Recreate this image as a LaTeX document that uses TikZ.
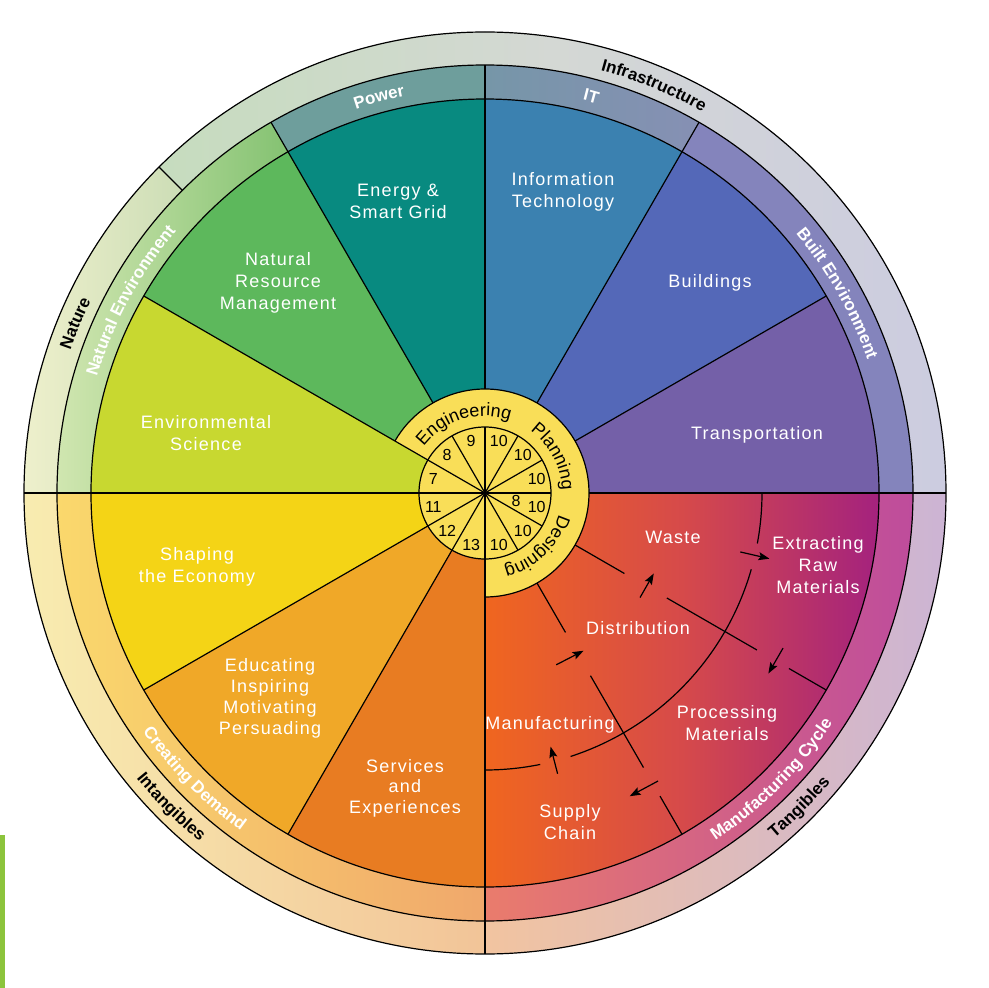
\documentclass[tikz,border=0pt]{standalone}
\usepackage{fontspec}
\setmainfont{Liberation Sans}
\newfontfamily\labfont{Liberation Sans}[LetterSpace=7]
\newfontfamily\bandfont{Liberation Sans}
\newfontfamily\ringfont{Liberation Sans}
\newfontfamily\numfont{Liberation Sans}
\usetikzlibrary{decorations.text,arrows.meta}

\definecolor{cEnv}{HTML}{C8D830}
\definecolor{cNRM}{HTML}{5DB85C}
\definecolor{cEnergy}{HTML}{088A80}
\definecolor{cIT}{HTML}{3B81B0}
\definecolor{cBuild}{HTML}{5468B8}
\definecolor{cTrans}{HTML}{7460A8}
\definecolor{cShape}{HTML}{F4D416}
\definecolor{cEdu}{HTML}{F0A828}
\definecolor{cServ}{HTML}{E87C22}
\definecolor{cManL}{HTML}{F0661F}
\definecolor{cManM}{HTML}{D64A4A}
\definecolor{cManR}{HTML}{A4227E}
\definecolor{cYel}{HTML}{F9DE58}
\definecolor{bNatL}{HTML}{D0E6B0}
\definecolor{bNatR}{HTML}{84C272}
\definecolor{bPow}{HTML}{6E9E9C}
\definecolor{bITL}{HTML}{7696A8}
\definecolor{bITR}{HTML}{8690B4}
\definecolor{bBuilt}{HTML}{8484BC}
\definecolor{bMfgL}{HTML}{EA7C6C}
\definecolor{bMfgR}{HTML}{BE4C9C}
\definecolor{bDemL}{HTML}{FAD86C}
\definecolor{bDemR}{HTML}{F0A86C}
\definecolor{oNatL}{HTML}{EEF0CC}
\definecolor{oNatR}{HTML}{CCDDB6}
\definecolor{oInfL}{HTML}{C6DCBE}
\definecolor{oInfM}{HTML}{D4D8D4}
\definecolor{oInfR}{HTML}{CCCCE0}
\definecolor{oTanL}{HTML}{F2C4A0}
\definecolor{oTanR}{HTML}{CCB4D4}
\definecolor{oIntL}{HTML}{F8ECB0}
\definecolor{oIntR}{HTML}{F2C498}
\definecolor{artgreen}{HTML}{8CC43C}

\newcommand{\annsec}[4]{(#1:#3) arc[start angle=#1,end angle=#2,radius=#3] -- (#2:#4) arc[start angle=#2,end angle=#1,radius=#4] -- cycle}
\newcommand{\piesec}[3]{(0,0) -- (#1:#3) arc[start angle=#1,end angle=#2,radius=#3] -- cycle}
\newcommand{\bandfmt}{\bandfont\bfseries\fontsize{17}{20}\selectfont}
\newcommand{\ringfmt}{\ringfont\fontsize{18}{21}\selectfont}
% clockwise text (tops outward): centre angle, radius, half span, format, text
\newcommand{\cwtext}[5]{\path[decorate,decoration={text along path,text align=center,text={|#4|#5}}] (#1+#3:#2) arc[start angle=#1+#3,end angle=#1-#3,radius=#2];}
% counter-clockwise text (tops inward)
\newcommand{\ccwtext}[5]{\path[decorate,decoration={text along path,text align=center,text={|#4|#5}}] (#1-#3:#2) arc[start angle=#1-#3,end angle=#1+#3,radius=#2];}

\tikzset{
  border/.style={line width=1.2pt, black},
  seclabel/.style={text=white, align=center, font=\labfont\fontsize{18}{22}\selectfont, inner sep=0pt},
  numlabel/.style={font=\numfont\fontsize{16}{18}\selectfont, inner sep=0pt},
  cyc/.style={line width=1.2pt, black},
  cycarrow/.style={line width=1.2pt, black, -{Stealth[length=11pt,width=8pt,inset=2pt]}}
}

\begin{document}
\begin{tikzpicture}[x=1pt,y=1pt]
\useasboundingbox (-485,-495) rectangle (503,493);
\fill[white] (-485,-495) rectangle (503,493);
\fill[artgreen] (-485,-342) rectangle (-480,-495);

% outer band
\shade[left color=oNatL,right color=oNatR] \annsec{135}{180}{461pt}{428pt};
\shade[left color=oInfL,right color=oInfR,middle color=oInfM] \annsec{0}{135}{461pt}{428pt};
\shade[left color=oTanL,right color=oTanR] \annsec{-90}{0}{461pt}{428pt};
\shade[left color=oIntL,right color=oIntR] \annsec{180}{270}{461pt}{428pt};

% middle band
\shade[left color=bNatL,right color=bNatR] \annsec{120}{180}{428pt}{394pt};
\fill[bPow] \annsec{90}{120}{428pt}{394pt};
\shade[left color=bITL,right color=bITR] \annsec{60}{90}{428pt}{394pt};
\fill[bBuilt] \annsec{0}{60}{428pt}{394pt};
\shade[left color=bMfgL,right color=bMfgR] \annsec{-90}{0}{428pt}{394pt};
\shade[left color=bDemL,right color=bDemR] \annsec{180}{270}{428pt}{394pt};

% sectors
\fill[cTrans] \piesec{0}{30}{394pt};
\fill[cBuild] \piesec{30}{60}{394pt};
\fill[cIT] \piesec{60}{90}{394pt};
\fill[cEnergy] \piesec{90}{120}{394pt};
\fill[cNRM] \piesec{120}{150}{394pt};
\fill[cEnv] \piesec{150}{180}{394pt};
\fill[cShape] \piesec{180}{210}{394pt};
\fill[cEdu] \piesec{210}{240}{394pt};
\fill[cServ] \piesec{240}{270}{394pt};
\shade[left color=cManL,right color=cManR,middle color=cManM] \piesec{-90}{0}{394pt};

% yellow ring and hub
\fill[cYel] (0,0) -- (150:104pt) arc[start angle=150,end angle=-90,radius=104pt] -- cycle;
\draw[border] (150:104pt) arc[start angle=150,end angle=-90,radius=104pt];
\fill[cYel] (0,0) circle[radius=66pt];

% circles
\draw[border] (0,0) circle[radius=461pt];
\draw[border] (0,0) circle[radius=428pt];
\draw[border] (0,0) circle[radius=394pt];
\draw[border] (0,0) circle[radius=66pt];

% dividers
\draw[border] (180:66pt) -- (180:461pt);
\draw[border] (270:66pt) -- (270:461pt);
\draw[border] (0:104pt) -- (0:461pt);
\draw[border] (90:104pt) -- (90:428pt);
\draw[border] (120:104pt) -- (120:428pt);
\draw[border] (60:104pt) -- (60:428pt);
\draw[border] (30:104pt) -- (30:394pt);
\draw[border] (150:66pt) -- (150:394pt);
\draw[border] (210:66pt) -- (210:394pt);
\draw[border] (240:66pt) -- (240:394pt);
\draw[border] (135:428pt) -- (135:461pt);
\foreach \a in {0,30,...,330} \draw[border] (0,0) -- (\a:66pt);

% hub numbers
\foreach \a/\n [count=\i] in {105/9,135/8,165/7,195/11,225/12,255/13,285/10,315/10,345/10,15/10,45/10,75/10}
  \node[numlabel] (num\i) at (\a:53.5pt) {\n};
\node[numlabel] (numx) at (346:32pt) {8};

% ring texts
\cwtext{107}{77pt}{50}{\ringfmt}{Engineering}
\cwtext{28}{77pt}{40}{\ringfmt}{Planning}
\cwtext{-46}{77pt}{40}{\ringfmt}{Designing}

% band texts
\cwtext{157.5}{438.5pt}{30}{\bandfmt\color{black}}{Nature}
\cwtext{67.5}{438.5pt}{40}{\bandfmt\color{black}}{Infrastructure}
\cwtext{151.5}{405pt}{30}{\bandfmt\color{white}}{Natural Environment}
\cwtext{105}{405pt}{20}{\bandfmt\color{white}}{Power}
\cwtext{75}{405pt}{20}{\bandfmt\color{white}}{IT}
\cwtext{29.5}{405pt}{30}{\bandfmt\color{white}}{Built Environment}
\ccwtext{-45}{417pt}{30}{\bandfmt\color{white}}{Manufacturing Cycle}
\ccwtext{-45}{450.5pt}{30}{\bandfmt\color{black}}{Tangibles}
\ccwtext{225}{450.5pt}{30}{\bandfmt\color{black}}{Intangibles}
\ccwtext{224.5}{417pt}{30}{\bandfmt\color{white}}{Creating Demand}

% manufacturing cycle lines
\draw[cyc] (0:277pt) arc[start angle=0,end angle=-10.5,radius=277pt];
\draw[cyc] (-16:277pt) arc[start angle=-16,end angle=-72,radius=277pt];
\draw[cyc] (-78.5:277pt) arc[start angle=-78.5,end angle=-90,radius=277pt];
\draw[cyc] (-30:104pt) -- (-30:161pt) (-30:210pt) -- (-30:314pt) (-30:351pt) -- (-30:394pt);
\draw[cyc] (-60:104pt) -- (-60:161pt) (-60:211pt) -- (-60:317pt) (-60:350pt) -- (-60:394pt);

% sector labels
\node[seclabel] (energy) at (-87,292) {Energy \&\\Smart Grid};
\node[seclabel] (nrm) at (-207,210) {Natural\\Resource\\Management};
\node[seclabel] (envsci) at (-279,60) {Environmental\\Science};
\node[seclabel] (infotech) at (78,301) {Information\\Technology};
\node[seclabel] (build) at (225,210) {Buildings};
\node[seclabel] (trans) at (272,58) {Transportation};
\node[seclabel] (shape) at (-288,-74) {Shaping\\the Economy};
\node[seclabel, font=\labfont\fontsize{18}{21}\selectfont] (edu) at (-215,-205) {Educating\\Inspiring\\Motivating\\Persuading};
\node[seclabel, font=\labfont\fontsize{18}{20.5}\selectfont] (serv) at (-80,-295) {Services\\and\\Experiences};
\node[seclabel] (waste) at (188,-44) {Waste};
\node[seclabel] (extract) at (333,-72) {Extracting\\Raw\\Materials};
\node[seclabel] (distr) at (153,-135) {Distribution};
\node[seclabel] (proc) at (242,-230) {Processing\\Materials};
\node[seclabel] (manuf) at (65,-232) {Manufacturing};
\node[seclabel] (supply) at (85,-329) {Supply\\Chain};

% cycle arrows
\coordinate (w1) at (-13:262pt); \coordinate (w2) at (-13:292pt);
\coordinate (e1) at (-27.5:336pt); \coordinate (e2) at (-32.5:336pt);
\coordinate (p1) at (-59:336pt); \coordinate (p2) at (-64.5:336pt);
\coordinate (s1) at (-75.5:290pt); \coordinate (s2) at (-75.5:262pt);
\coordinate (m1) at (-67.5:186pt); \coordinate (m2) at (-58:186pt);
\coordinate (d1) at (-34:187pt); \coordinate (d2) at (-25.5:187pt);
\draw[cycarrow] (w1) -- (w2);
\draw[cycarrow] (e1) -- (e2);
\draw[cycarrow] (p1) -- (p2);
\draw[cycarrow] (s1) -- (s2);
\draw[cycarrow] (m1) -- (m2);
\draw[cycarrow] (d1) -- (d2);
\end{tikzpicture}
\end{document}
